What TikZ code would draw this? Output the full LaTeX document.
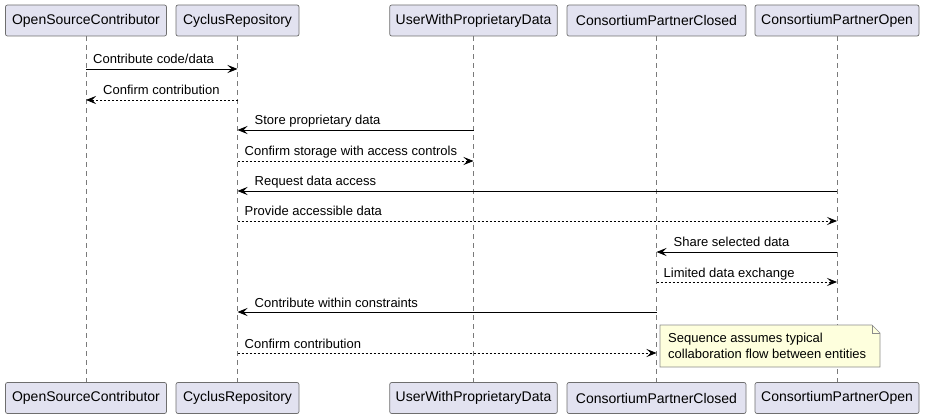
\documentclass[tikz,border=0pt]{standalone}
\usepackage{fontspec}
\setmainfont{Liberation Sans}
\usetikzlibrary{arrows.meta}
\definecolor{partfill}{HTML}{E2E2F0}
\definecolor{partdraw}{HTML}{6E6E6E}
\definecolor{notefill}{HTML}{FEFFDD}
\definecolor{notedraw}{HTML}{8C8C8C}
\definecolor{lifecol}{HTML}{7A7A7A}
\tikzset{
  part/.style={draw=partdraw, fill=partfill, rounded corners=2pt, minimum height=31pt, inner xsep=6pt, font=\fontsize{14}{16}\selectfont, line width=0.7pt},
  life/.style={draw=lifecol, dash pattern=on 5pt off 4pt, line width=0.6pt},
  msg/.style={line width=0.8pt, -{Stealth[length=10pt,width=8pt,inset=4pt]}},
  ret/.style={msg, dash pattern=on 2pt off 2pt},
  lbl/.style={font=\fontsize{13}{15}\selectfont, inner sep=0pt, anchor=base west},
  notetext/.style={font=\fontsize{13}{16}\selectfont, inner sep=0pt, align=left, anchor=north west}
}
\begin{document}
\begin{tikzpicture}[x=1pt,y=-1pt]
\useasboundingbox (0,0) rectangle (925,419);
% participants
\node[part, minimum width=161pt] (a) at (86,20.5) {OpenSourceContributor};
\node[part, minimum width=123pt] (b) at (237.5,20.5) {CyclusRepository};
\node[part, minimum width=167pt] (c) at (473.5,20.5) {UserWithProprietaryData};
\node[part, minimum width=179pt] (d) at (656.5,20.5) {ConsortiumPartnerClosed};
\node[part, minimum width=164pt] (e) at (837,20.5) {ConsortiumPartnerOpen};
\node[part, minimum width=161pt] (a2) at (86,398) {OpenSourceContributor};
\node[part, minimum width=123pt] (b2) at (237.5,398) {CyclusRepository};
\node[part, minimum width=167pt] (c2) at (473.5,398) {UserWithProprietaryData};
\node[part, minimum width=179pt] (d2) at (656.5,398) {ConsortiumPartnerClosed};
\node[part, minimum width=164pt] (e2) at (837,398) {ConsortiumPartnerOpen};
% lifelines
\draw[life] (a.south) -- (a2.north);
\draw[life] (b.south) -- (b2.north);
\draw[life] (c.south) -- (c2.north);
\draw[life] (d.south) -- (d2.north);
\draw[life] (e.south) -- (e2.north);
% message end points
\coordinate (a1) at (a.south |- 0,69);
\coordinate (b1) at (b.south |- 0,69);
\coordinate (a2m) at (a.south |- 0,100);
\coordinate (b2m) at (b.south |- 0,100);
\coordinate (c3) at (c.south |- 0,130);
\coordinate (b3) at (b.south |- 0,130);
\coordinate (b4) at (b.south |- 0,161);
\coordinate (c4) at (c.south |- 0,161);
\coordinate (e5) at (e.south |- 0,191);
\coordinate (b5) at (b.south |- 0,191);
\coordinate (b6) at (b.south |- 0,221);
\coordinate (e6) at (e.south |- 0,221);
\coordinate (e7) at (e.south |- 0,252);
\coordinate (d7) at (d.south |- 0,252);
\coordinate (d8) at (d.south |- 0,282);
\coordinate (e8) at (e.south |- 0,282);
\coordinate (d9) at (d.south |- 0,312);
\coordinate (b9) at (b.south |- 0,312);
\coordinate (b10) at (b.south |- 0,353);
\coordinate (d10) at (d.south |- 0,353);
% messages
\draw[msg] (a1) -- (b1);
\node[lbl] (l1) at ([xshift=7pt,yshift=5pt]a1) {Contribute code/data};
\draw[ret] (b2m) -- (a2m);
\node[lbl] (l2) at ([xshift=17pt,yshift=5pt]a2m) {Confirm contribution};
\draw[msg] (c3) -- (b3);
\node[lbl] (l3) at ([xshift=17pt,yshift=5pt]b3) {Store proprietary data};
\draw[ret] (b4) -- (c4);
\node[lbl] (l4) at ([xshift=7pt,yshift=5pt]b4) {Confirm storage with access controls};
\draw[msg] (e5) -- (b5);
\node[lbl] (l5) at ([xshift=17pt,yshift=5pt]b5) {Request data access};
\draw[ret] (b6) -- (e6);
\node[lbl] (l6) at ([xshift=7pt,yshift=5pt]b6) {Provide accessible data};
\draw[msg] (e7) -- (d7);
\node[lbl] (l7) at ([xshift=17pt,yshift=5pt]d7) {Share selected data};
\draw[ret] (d8) -- (e8);
\node[lbl] (l8) at ([xshift=7pt,yshift=5pt]d8) {Limited data exchange};
\draw[msg] (d9) -- (b9);
\node[lbl] (l9) at ([xshift=17pt,yshift=5pt]b9) {Contribute within constraints};
\draw[ret] (b10) -- (d10);
\node[lbl] (l10) at ([xshift=7pt,yshift=5pt]b10) {Confirm contribution};
% note
\coordinate (n1) at (660,325);
\coordinate (n2) at (872,325);
\coordinate (n3) at (880,333);
\coordinate (n4) at (880,367);
\coordinate (n5) at (660,367);
\coordinate (n6) at (872,333);
\filldraw[fill=notefill, draw=notedraw, line width=0.6pt] (n1) -- (n2) -- (n3) -- (n4) -- (n5) -- cycle;
\draw[notedraw, line width=0.6pt] (n2) -- (n6) -- (n3);
\node[notetext] (nt) at (668,333) {Sequence assumes typical\\collaboration flow between entities};
\end{tikzpicture}
\end{document}
